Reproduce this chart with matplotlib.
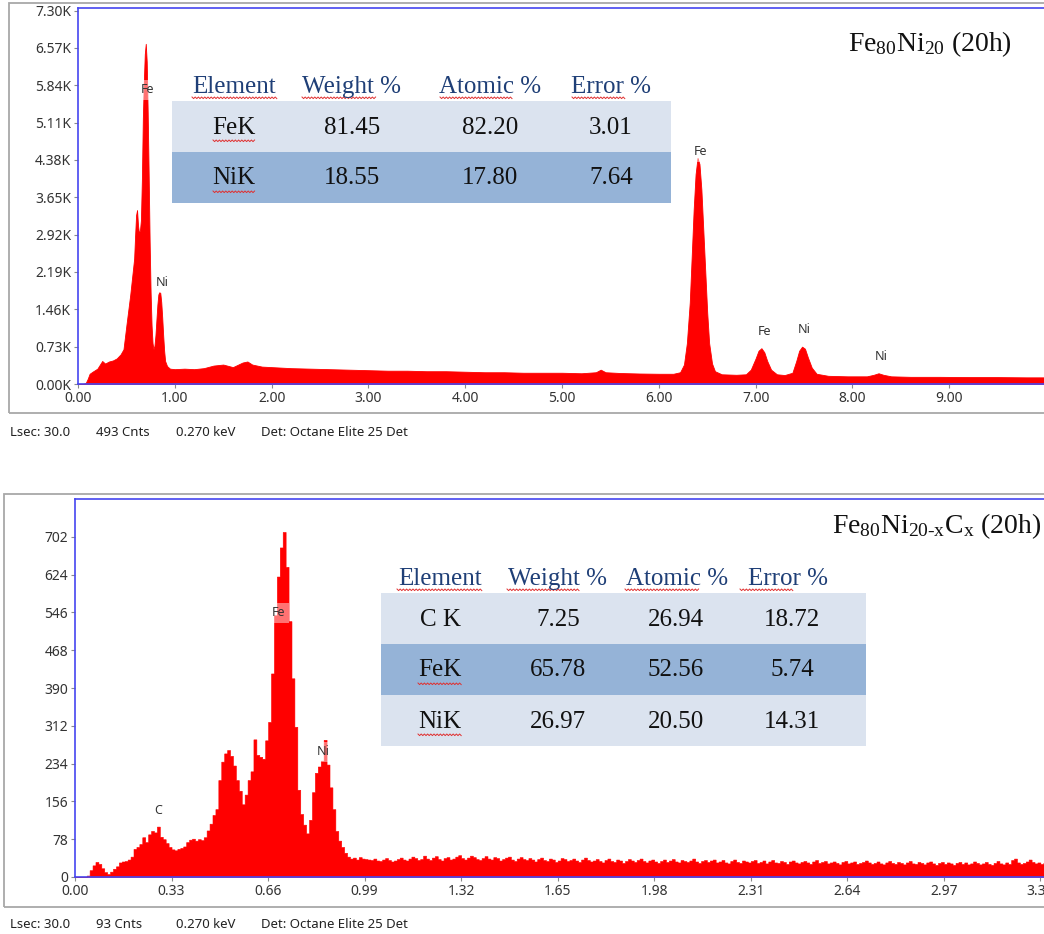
import numpy as np
import matplotlib
matplotlib.use("Agg")
import matplotlib.pyplot as plt
from matplotlib.patches import Rectangle
from matplotlib.lines import Line2D
from matplotlib.transforms import Bbox, TransformedBbox

# ---------------- data ----------------
# Fe80Ni20 (20h) spectrum: energy (keV) and counts
top_kev = [
    0.00, 0.05, 0.08, 0.10, 0.12, 0.15, 0.20, 0.25, 0.28, 0.32,
    0.36, 0.40, 0.44, 0.47, 0.50, 0.52, 0.54, 0.56, 0.58, 0.59,
    0.60, 0.61, 0.62, 0.63, 0.64, 0.65, 0.66, 0.67, 0.68, 0.69,
    0.70, 0.71, 0.72, 0.73, 0.74, 0.75, 0.76, 0.77, 0.78, 0.79,
    0.80, 0.81, 0.82, 0.83, 0.84, 0.85, 0.86, 0.87, 0.88, 0.89,
    0.90, 0.92, 0.95, 1.00, 1.10, 1.20, 1.30, 1.40, 1.50, 1.60,
    1.70, 1.75, 1.80, 1.90, 2.00, 2.20, 2.40, 2.60, 2.80, 3.00,
    3.20, 3.40, 3.60, 3.80, 4.00, 4.20, 4.40, 4.60, 4.80, 5.00,
    5.20, 5.35, 5.40, 5.45, 5.60, 5.80, 6.00, 6.15, 6.22, 6.26,
    6.29, 6.32, 6.34, 6.36, 6.38, 6.40, 6.42, 6.44, 6.46, 6.48,
    6.50, 6.52, 6.55, 6.58, 6.65, 6.80, 6.90, 6.95, 7.00, 7.03,
    7.06, 7.09, 7.12, 7.16, 7.22, 7.30, 7.38, 7.42, 7.45, 7.48,
    7.51, 7.54, 7.58, 7.63, 7.75, 7.95, 8.15, 8.22, 8.27, 8.32,
    8.40, 8.60, 8.90, 9.20, 9.50, 9.80, 10.00,
]
top_counts = [
    0, 0, 20, 100, 200, 240, 300, 450, 400, 440,
    460, 500, 580, 680, 1150, 1450, 1750, 2100, 2450, 2900,
    3300, 3400, 3100, 2950, 3000, 3200, 4000, 5200, 5900, 6450,
    6650, 6300, 5300, 4100, 2800, 1800, 1150, 800, 680, 750,
    950, 1250, 1550, 1750, 1800, 1780, 1600, 1300, 950, 650,
    450, 350, 300, 290, 300, 290, 310, 360, 380, 330,
    420, 440, 380, 340, 330, 310, 300, 290, 280, 270,
    260, 260, 250, 250, 240, 230, 230, 220, 220, 220,
    210, 230, 280, 230, 215, 205, 200, 200, 230, 380,
    800, 1600, 2500, 3400, 4100, 4420, 4300, 3800, 3000, 2200,
    1400, 800, 400, 250, 190, 180, 190, 280, 500, 650,
    700, 620, 450, 280, 190, 175, 220, 450, 650, 730,
    690, 520, 320, 200, 160, 150, 150, 180, 210, 180,
    150, 140, 140, 135, 135, 130, 130,
]
top_yticks = [0, 730, 1460, 2190, 2920, 3650, 4380, 5110, 5840, 6570, 7300]
top_xticks = [0, 1, 2, 3, 4, 5, 6, 7, 8, 9]
top_peak_labels = [("Fe", 0.713, 5750), ("Ni", 0.868, 1975), ("Fe", 6.43, 4537),
                   ("Fe", 7.09, 1017), ("Ni", 7.50, 1075), ("Ni", 8.30, 528)]

# Fe80Ni20-xCx (20h) spectrum: counts per 0.01 keV channel starting at 0.00 keV
channel_width = 0.01
bottom_counts = [
    0, 0, 0, 0, 3, 14, 24, 31, 27, 18,
    10, 6, 11, 17, 22, 30, 32, 33, 36, 42,
    58, 62, 68, 82, 72, 88, 95, 92, 104, 83,
    78, 70, 62, 57, 55, 58, 60, 63, 72, 77,
    79, 75, 78, 76, 82, 96, 110, 128, 140, 200,
    238, 255, 262, 250, 230, 200, 178, 150, 170, 200,
    218, 284, 252, 248, 244, 282, 320, 420, 540, 620,
    680, 712, 640, 528, 410, 310, 180, 130, 108, 90,
    118, 175, 215, 228, 240, 283, 232, 185, 140, 95,
    75, 62, 50, 42, 38, 40, 36, 41, 38, 37,
    36, 35, 38, 34, 33, 36, 39, 35, 32, 34,
    37, 40, 36, 34, 38, 42, 39, 35, 37, 44,
    38, 35, 40, 43, 37, 34, 39, 41, 36, 38,
    42, 45, 39, 36, 40, 44, 41, 37, 35, 39,
    43, 38, 36, 41, 39, 34, 37, 40, 42, 36,
    33, 38, 41, 37, 35, 39, 36, 32, 37, 40,
    35, 33, 38, 36, 31, 34, 39, 37, 33, 35,
    38, 34, 31, 36, 40, 35, 32, 34, 37, 33,
    30, 35, 38, 33, 31, 36, 34, 29, 33, 37,
    34, 31, 35, 38, 33, 30, 34, 36, 32, 29,
    33, 36, 31, 34, 37, 32, 30, 35, 33, 31,
    34, 38, 32, 29, 33, 35, 31, 34, 36, 30,
    32, 35, 30, 28, 33, 36, 31, 29, 34, 32,
    30, 33, 35, 29, 31, 34, 28, 32, 35, 30,
    29, 33, 31, 27, 32, 34, 30, 28, 31, 33,
    30, 27, 32, 35, 29, 31, 33, 28, 30, 32,
    29, 26, 31, 33, 28, 30, 32, 27, 29, 31,
    34, 30, 27, 29, 32, 28, 26, 30, 33, 29,
    27, 31, 29, 26, 30, 33, 28, 27, 31, 29,
    26, 30, 32, 28, 25, 29, 31, 27, 30, 28,
    25, 29, 31, 27, 30, 26, 28, 32, 29, 26,
    28, 31, 27, 25, 29, 33, 28, 26, 30, 27,
    35, 38, 30, 27, 29, 32, 36, 31, 28, 30,
    27, 29, 31, 28, 30,
]
bottom_yticks = [0, 78, 156, 234, 312, 390, 468, 546, 624, 702]
bottom_xticks = [0.00, 0.33, 0.66, 0.99, 1.32, 1.65, 1.98, 2.31, 2.64, 2.97, 3.30]
bottom_peak_labels = [("C", 0.284, 138), ("Fe", 0.694, 545), ("Ni", 0.847, 258)]

# quantification tables
table_header = ["Element", "Weight %", "Atomic %", "Error %"]
top_table_rows = [["FeK", "81.45", "82.20", "3.01"],
                  ["NiK", "18.55", "17.80", "7.64"]]
bottom_table_rows = [["C K", "7.25", "26.94", "18.72"],
                     ["FeK", "65.78", "52.56", "5.74"],
                     ["NiK", "26.97", "20.50", "14.31"]]

top_footer = ["Lsec: 30.0", "493 Cnts", "0.270 keV", "Det: Octane Elite 25 Det"]
bottom_footer = ["Lsec: 30.0", "93 Cnts", "0.270 keV", "Det: Octane Elite 25 Det"]

# ---------------- styling ----------------
W, H = 1044, 934
plt.rcParams["mathtext.fontset"] = "custom"
plt.rcParams["mathtext.rm"] = "Liberation Serif"
plt.rcParams["mathtext.it"] = "Liberation Serif:italic"
plt.rcParams["mathtext.bf"] = "Liberation Serif:bold"

RED = "#ff0000"
BLUE = "#4646f0"
GREY = "#a8a8a8"
LIGHT_ROW = "#dbe3ef"
DARK_ROW = "#95b3d7"
HEAD_COL = "#1f3f77"
SANS = "Noto Sans"
SERIF = "Liberation Serif"

fig = plt.figure(figsize=(W / 100, H / 100), dpi=100)
fig.patch.set_facecolor("white")


def fbox(x0, y0, x1, y1):
    """pixel box (top-left origin) -> figure-fraction rect"""
    return [x0 / W, 1 - y1 / H, (x1 - x0) / W, (y1 - y0) / H]


def fxy(x, y):
    return x / W, 1 - y / H


def style_axes(ax):
    for s in ax.spines.values():
        s.set_color(BLUE)
        s.set_linewidth(1.2)
    ax.tick_params(axis="both", direction="out", length=3, width=0.8,
                   color="#8a8a8a", labelsize=10, labelcolor="#333333", pad=2)
    for lab in ax.get_xticklabels() + ax.get_yticklabels():
        lab.set_fontfamily(SANS)


def squiggle(x0, x1, y):
    xs = np.arange(x0, x1 + 0.1, 1.6)
    ys = np.where(np.arange(len(xs)) % 2 == 0, y, y + 1.6)
    fig.add_artist(Line2D(xs / W, 1 - ys / H, transform=fig.transFigure,
                          color="#e03030", lw=0.7, zorder=6))


def panel_border(x0, y0, x1, y1):
    fig.add_artist(Rectangle((x0 / W, 1 - y1 / H), (x1 - x0) / W, (y1 - y0) / H,
                             transform=fig.transFigure, fill=False,
                             ec=GREY, lw=1.3, zorder=0))


label_box = dict(boxstyle="square,pad=0.3", fc="white", ec="none", alpha=0.45)

# ---------------- top spectrum ----------------
panel_border(9, 3, 1080, 413)
ax1 = fig.add_axes(fbox(78, 8, 1046, 384))
ax1.fill_between(top_kev, top_counts, 0, color=RED, lw=0.6, edgecolor=RED)
ax1.set_xlim(0, 10.0)
ax1.set_ylim(0, 7350)
ax1.set_xticks(top_xticks)
ax1.set_xticklabels([f"{v:.2f}" for v in top_xticks])
ax1.set_yticks(top_yticks)
ax1.set_yticklabels([f"{v / 1000:.2f}K" for v in top_yticks])
style_axes(ax1)
# the topmost tick label is cut by the panel border
panel_clip = TransformedBbox(Bbox([[0, 0], [1, 1 - 4 / H]]), fig.transFigure)
top_lab = ax1.get_yticklabels()[-1]
top_lab.set_clip_on(True)
top_lab.set_clip_box(panel_clip)
for txt, x, y in top_peak_labels:
    ax1.text(x, y, txt, ha="center", va="center", fontsize=9, family=SANS,
             color="#333333", bbox=label_box, zorder=5)

# ---------------- bottom spectrum ----------------
panel_border(4, 494, 1080, 907)
ax2 = fig.add_axes(fbox(75, 499, 1055, 877))
edges = np.arange(len(bottom_counts) + 1) * channel_width
ax2.fill_between(edges, list(bottom_counts) + [bottom_counts[-1]], 0,
                 step="post", facecolor=RED, edgecolor=RED, lw=0.4)
ax2.set_xlim(0, 3.35)
ax2.set_ylim(0, 780)
ax2.set_xticks(bottom_xticks)
ax2.set_xticklabels([f"{v:.2f}" for v in bottom_xticks])
ax2.set_yticks(bottom_yticks)
ax2.set_yticklabels([str(v) for v in bottom_yticks])
style_axes(ax2)
for txt, x, y in bottom_peak_labels:
    ax2.text(x, y, txt, ha="center", va="center", fontsize=9, family=SANS,
             color="#333333", bbox=label_box, zorder=5)

# ---------------- sample titles ----------------
fig.text(*fxy(1012, 44), r"$\mathrm{Fe_{80}Ni_{20}}$ (20h)", ha="right",
         va="center", fontsize=20, family=SERIF, color="#111111", zorder=7)
fig.text(*fxy(1041, 526), r"$\mathrm{Fe_{80}Ni_{20\text{-}x}C_{x}}$ (20h)", ha="right",
         va="center", fontsize=20, family=SERIF, color="#111111", zorder=7)


# ---------------- tables ----------------
def draw_table(rows, x0, x1, row_top, row_h, header_y, head_cx, val_cx, spans):
    fills = [LIGHT_ROW, DARK_ROW, LIGHT_ROW]
    for i, row in enumerate(rows):
        y0 = row_top + i * row_h
        fig.add_artist(Rectangle((x0 / W, 1 - (y0 + row_h) / H), (x1 - x0) / W, row_h / H,
                                 transform=fig.transFigure, fc=fills[i], ec="none", zorder=3))
        for cx, val in zip(val_cx, row):
            fig.text(*fxy(cx, y0 + row_h / 2 + 1), val, ha="center", va="center",
                     fontsize=18, family=SERIF, color="#111111", zorder=7)
    for cx, head in zip(head_cx, table_header):
        fig.text(*fxy(cx, header_y), head, ha="center", va="center",
                 fontsize=18, family=SERIF, color=HEAD_COL, zorder=7)
    for sx0, sx1, sy in spans:
        squiggle(sx0, sx1, sy)


draw_table(top_table_rows, 172, 671, 101, 51, 87,
           [234, 352, 490, 611], [234, 352, 490, 611],
           [(192, 277, 97), (302, 377, 97), (440, 512, 97), (572, 625, 97),
            (213, 255, 140), (213, 255, 191)])
draw_table(bottom_table_rows, 381, 866, 593, 51, 579,
           [440, 558, 677, 788], [440, 558, 676, 792],
           [(397, 483, 589), (507, 580, 589), (625, 700, 589), (740, 793, 589),
            (418, 462, 683), (418, 462, 734)])

# ---------------- acquisition footers ----------------
for (footer, y) in [(top_footer, 433), (bottom_footer, 925)]:
    for x, txt in zip([10, 96, 176, 261], footer):
        fig.text(*fxy(x, y), txt, ha="left", va="center", fontsize=9.5,
                 family=SANS, color="#222222")

fig.savefig("out.png", dpi=100, facecolor="white")
